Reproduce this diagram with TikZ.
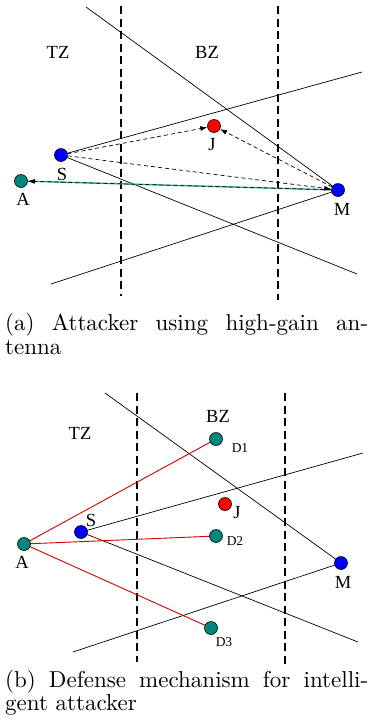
\documentclass[tikz,border=0pt]{standalone}
\usepackage{fontspec}
\newfontfamily\lblfont{Liberation Serif}
\newfontfamily\capfont{lmroman10-regular.otf}
\usetikzlibrary{arrows.meta}
\definecolor{tealnode}{RGB}{0,135,125}
\definecolor{bluenode}{RGB}{0,0,255}
\definecolor{rednode}{RGB}{255,0,0}
\definecolor{redline}{RGB}{210,0,0}
\definecolor{tealline}{RGB}{40,170,160}
\begin{document}
\begin{tikzpicture}[x=1pt,y=-1pt,
  dot/.style={circle,draw=black,line width=0.6pt,minimum size=13pt,inner sep=0pt},
  bnode/.style={dot,fill=bluenode},
  rnode/.style={dot,fill=rednode},
  tnode/.style={dot,fill=tealnode},
  lbl/.style={font=\lblfont\fontsize{18.5}{19}\selectfont,inner sep=0pt},
  slbl/.style={font=\lblfont\fontsize{13.5}{14}\selectfont,inner sep=0pt},
  zone/.style={line width=1.4pt,dash pattern=on 8pt off 4.5pt},
  beam/.style={line width=0.7pt},
  msg/.style={line width=0.7pt,dash pattern=on 4pt off 3pt,-{Latex[length=7pt,width=5pt]}},
  redl/.style={redline,line width=0.9pt},
  captext/.style={font=\capfont\fontsize{23}{24}\selectfont,inner sep=0pt,anchor=base west}
]
\useasboundingbox (0,0) rectangle (374,724);

% ---------------- panel (a) ----------------
\coordinate (az1t) at (121,6);  \coordinate (az1b) at (121,296);
\coordinate (az2t) at (278,6);  \coordinate (az2b) at (278,300);
\draw[zone] (az1t) -- (az1b);
\draw[zone] (az2t) -- (az2b);

\coordinate (aS) at (61,155);
\coordinate (aM) at (338,190);
\coordinate (aJ) at (214,126);
\coordinate (aA) at (21,181);
\coordinate (aL1) at (86,7);
\coordinate (aL2) at (362,72);
\coordinate (aL3) at (357,274);
\coordinate (aL4) at (51,284);

\draw[beam] (aL1) -- (aM);
\draw[beam] (aS) -- (aL2);
\draw[beam] (aS) -- (aL3);
\draw[beam] (aL4) -- (aM);

\node[bnode] (Sa) at (aS) {};
\node[bnode] (Ma) at (aM) {};
\node[rnode] (Ja) at (aJ) {};
\node[tnode] (Aa) at (aA) {};

\draw[tealline,line width=1.4pt] (Ma) -- (Aa);
\draw[msg] (Ma) -- (Aa);
\draw[msg] (Sa) -- (Ma);
\draw[msg] (Sa) -- (Ja);
\draw[msg] (Ma) -- (Ja);

\node[lbl] (TZa) at (58,52) {TZ};
\node[lbl] (BZa) at (207,52) {BZ};
\node[lbl] (Sla) at (62,174) {S};
\node[lbl] (Ala) at (23,199) {A};
\node[lbl] (Jla) at (212,145) {J};
\node[lbl] (Mla) at (342,209) {M};

\node[captext] (capa1) at (5,330.5) {\makebox[363pt][s]{(a) Attacker using high-gain an-}};
\node[captext] (capa2) at (5,354) {tenna};

% ---------------- panel (b) ----------------
\coordinate (bz1t) at (137,393);  \coordinate (bz1b) at (137,662);
\coordinate (bz2t) at (285,393);  \coordinate (bz2b) at (285,666);
\draw[zone] (bz1t) -- (bz1b);
\draw[zone] (bz2t) -- (bz2b);

\coordinate (bS) at (81,532);
\coordinate (bM) at (341,563);
\coordinate (bA) at (24,544);
\coordinate (bJ) at (225,504);
\coordinate (bD1) at (216,439);
\coordinate (bD2) at (216,536);
\coordinate (bD3) at (211,628);
\coordinate (bL1) at (105,393);
\coordinate (bL2) at (363,453);
\coordinate (bL3) at (358,642);
\coordinate (bL4) at (73,652);

\draw[beam] (bL1) -- (bM);
\draw[beam] (bS) -- (bL2);
\draw[beam] (bS) -- (bL3);
\draw[beam] (bL4) -- (bM);

\draw[redl] (bA) -- (bD1);
\draw[redl] (bA) -- (bD2);
\draw[redl] (bA) -- (bD3);

\node[bnode] (Sb) at (bS) {};
\node[bnode] (Mb) at (bM) {};
\node[tnode] (Ab) at (bA) {};
\node[rnode] (Jb) at (bJ) {};
\node[tnode] (D1b) at (bD1) {};
\node[tnode] (D2b) at (bD2) {};
\node[tnode] (D3b) at (bD3) {};

\node[lbl] (TZb) at (80,433) {TZ};
\node[lbl] (BZb) at (218,416) {BZ};
\node[lbl] (Slb) at (91,520) {S};
\node[lbl] (Alb) at (22,562) {A};
\node[lbl] (Jlb) at (237,513) {J};
\node[lbl] (Mlb) at (343,582) {M};
\node[slbl] (D1l) at (240,448) {D1};
\node[slbl] (D2l) at (235,541) {D2};
\node[slbl] (D3l) at (224,642) {D3};

\node[captext] (capb1) at (5,687.5) {\makebox[363pt][s]{(b) Defense mechanism for intelli-}};
\node[captext] (capb2) at (5,710) {gent attacker};
\end{tikzpicture}
\end{document}
